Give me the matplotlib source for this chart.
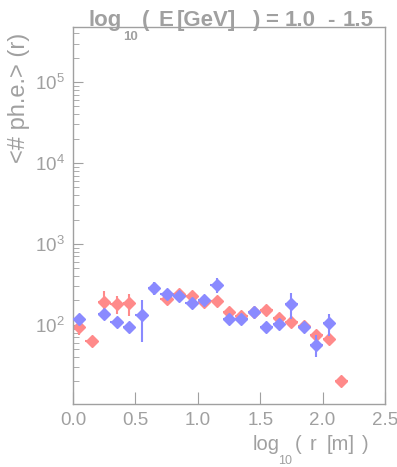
import matplotlib
matplotlib.use("Agg")
import matplotlib.pyplot as plt
import numpy as np
from matplotlib.ticker import LogLocator, FixedLocator

plt.rcParams['font.family'] = ['Liberation Sans', 'DejaVu Sans']
plt.rcParams['mathtext.fontset'] = 'custom'
plt.rcParams['mathtext.rm'] = 'Liberation Sans'

# Red series
red_x = [0.05, 0.15, 0.25, 0.35, 0.45, 0.75, 0.85, 0.95, 1.05, 1.15, 1.25, 1.35, 1.45, 1.55, 1.65, 1.75, 1.85, 1.95, 2.05, 2.15]
red_y = [95, 63, 191, 180, 185, 210, 241, 230, 191, 199, 146, 129, 146, 153, 123, 108, 97, 74, 67, 20]
red_err = [20, 5, 70, 45, 55, 15, 15, 15, 12, 12, 10, 10, 10, 10, 10, 8, 8, 8, 7, 2]

# Blue series
blue_x = [0.05, 0.25, 0.35, 0.45, 0.55, 0.65, 0.75, 0.85, 0.95, 1.05, 1.15, 1.25, 1.35, 1.45, 1.55, 1.65, 1.75, 1.85, 1.95, 2.05]
blue_y = [117, 137, 108, 95, 133, 285, 239, 230, 185, 204, 312, 117, 117, 143, 94, 103, 182, 94, 57, 105]
blue_err = [15, 10, 8, 8, 72, 50, 25, 15, 12, 12, 65, 8, 8, 8, 8, 12, 65, 8, 17, 32]

x_ticks = [0.0, 0.5, 1.0, 1.5, 2.0, 2.5]
x_ticklabels = ['0.0', '0.5', '1.0', '1.5', '2.0', '2.5']

title_tokens = ['log', '10', '(', 'E', '[GeV]', ')', '=', '1.0', '-', '1.5']
xlabel_tokens = ['log', '10', '(', 'r', '[m]', ')']
ylabel_text = '<# ph.e.> (r)'

W, H = 397, 467
gray = '#a0a0a0'
red_c = '#ff8a8a'
blue_c = '#8a8aff'

fig = plt.figure(figsize=(W/100, H/100), dpi=100)
ax = fig.add_axes([73/W, 1-404/H, (385-73)/W, (404-27)/H])

ax.errorbar(red_x, red_y, yerr=red_err, xerr=0.05, fmt='D', color=red_c, ms=6.5,
            mec=red_c, elinewidth=1.5, capsize=0, zorder=2)
ax.errorbar(blue_x, blue_y, yerr=blue_err, xerr=0.05, fmt='D', color=blue_c, ms=6.5,
            mec=blue_c, elinewidth=1.5, capsize=0, zorder=3)

ax.set_yscale('log')
ax.set_xlim(0, 2.5)
ax.set_ylim(10.5, 4.8e5)
ax.set_xticks(x_ticks)
ax.set_xticklabels(x_ticklabels)
ax.yaxis.set_major_locator(FixedLocator([1e2, 1e3, 1e4, 1e5]))
ax.yaxis.set_minor_locator(LogLocator(base=10, subs=np.arange(2, 10), numticks=20))

for s in ax.spines.values():
    s.set_color(gray)
    s.set_linewidth(1.0)
ax.tick_params(axis='both', which='both', direction='in', colors=gray, labelcolor=gray,
               labelsize=13.5, top=False, right=False)
ax.tick_params(axis='x', which='major', length=9, pad=6)
ax.tick_params(axis='y', which='major', length=7, pad=6)
ax.tick_params(axis='y', which='minor', length=4)


def put(s, x, y, size, weight='normal'):
    fig.text(x/W, 1-y/H, s, ha='left', va='baseline', fontsize=size,
             fontweight=weight, color=gray)


# title pieces (ROOT-like TLatex spacing)
title_x = [89, 123, 142, 158, 177, 252, 265, 285, 327, 343]
for tok, xp in zip(title_tokens, title_x):
    if tok == '10':
        put(tok, xp, 40, 9.5, 'bold')
    else:
        put(tok, xp, 26, 16, 'bold')

# x label pieces
xlabel_x = [253, 278, 295, 310, 327, 362]
for tok, xp in zip(xlabel_tokens, xlabel_x):
    if tok == '10':
        put(tok, xp, 464, 9)
    else:
        put(tok, xp, 450, 14.5)

fig.text(19/W, 1-33/H, ylabel_text, rotation=90, ha='center', va='top',
         color=gray, fontsize=17)

fig.savefig('out.png', dpi=100)
